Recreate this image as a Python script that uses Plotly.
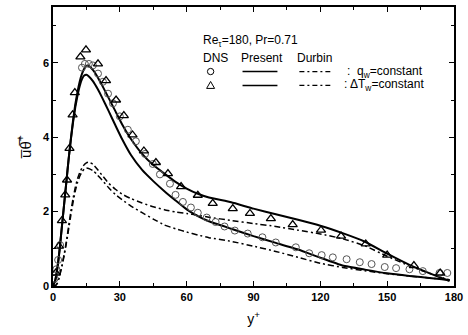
import plotly.graph_objects as go

# ---------------- data ----------------
yplus = [0, 1, 2, 3, 4, 5, 6, 7, 8, 9, 10, 11, 12, 13, 14, 15, 16, 18, 20, 22, 25, 28, 31, 35,
         40, 45, 50, 55, 60, 65, 70, 80, 90, 100, 110, 120, 130, 140, 150, 160, 170, 178]

present_dT = [0, 0.15, 0.5, 1.0, 1.6, 2.2, 2.8, 3.4, 3.95, 4.45, 4.88, 5.22, 5.5, 5.7, 5.84, 5.92,
              5.92, 5.8, 5.62, 5.4, 5.05, 4.7, 4.35, 3.95, 3.55, 3.25, 3.02, 2.8, 2.62, 2.48, 2.38,
              2.25, 2.08, 1.93, 1.78, 1.62, 1.42, 1.19, 0.87, 0.57, 0.32, 0.13]

present_qw = [0, 0.15, 0.5, 1.0, 1.6, 2.2, 2.8, 3.4, 3.93, 4.4, 4.8, 5.12, 5.38, 5.56, 5.66, 5.68,
              5.64, 5.5, 5.3, 5.07, 4.7, 4.32, 3.95, 3.52, 3.12, 2.82, 2.55, 2.3, 2.06, 1.88, 1.74,
              1.54, 1.34, 1.16, 0.98, 0.76, 0.55, 0.44, 0.34, 0.27, 0.21, 0.16]

durbin_dT = [0, 0.01, 0.08, 0.3, 0.55, 0.85, 1.2, 1.6, 2.0, 2.35, 2.65, 2.88, 3.05, 3.17, 3.26, 3.31,
             3.33, 3.27, 3.13, 2.98, 2.76, 2.6, 2.47, 2.35, 2.23, 2.13, 2.05, 1.99, 1.95, 1.9, 1.85,
             1.76, 1.68, 1.6, 1.5, 1.4, 1.27, 1.08, 0.8, 0.54, 0.32, 0.16]

durbin_qw = [0, 0.01, 0.08, 0.28, 0.52, 0.82, 1.15, 1.52, 1.9, 2.25, 2.55, 2.78, 2.95, 3.07, 3.14, 3.17,
             3.16, 3.1, 2.98, 2.85, 2.64, 2.46, 2.32, 2.15, 1.97, 1.8, 1.64, 1.54, 1.45, 1.37, 1.3,
             1.2, 1.07, 0.93, 0.77, 0.61, 0.5, 0.41, 0.33, 0.27, 0.21, 0.16]

dns_qw_y = [0.7, 1.5, 2.3, 3.2, 13, 14.3, 16.1, 17.9, 20.2, 22.4, 24.7, 26.9, 30, 33.6, 37.2, 41.3,
            44.8, 48, 52.5, 55, 58.3, 61.9, 65, 69, 73, 77, 81.6, 87.4, 94, 100, 109, 115, 120.6,
            125.6, 131.8, 137.7, 143, 148.9, 154, 160, 166, 173.5, 177]
dns_qw_v = [0.2, 0.45, 0.7, 1.1, 5.87, 5.97, 5.97, 5.93, 5.71, 5.49, 5.17, 4.91, 4.56, 4.2, 3.89, 3.55,
            3.28, 3.0, 2.75, 2.45, 2.26, 2.11, 1.97, 1.84, 1.72, 1.6, 1.49, 1.41, 1.31, 1.17, 1.04, 0.88,
            0.83, 0.77, 0.72, 0.64, 0.59, 0.51, 0.48, 0.45, 0.4, 0.35, 0.35]

dns_dT_y = [1.2, 2.7, 4, 5.5, 6.3, 7.4, 8.8, 9.8, 12.3, 14.8, 20.2, 23.8, 28.3, 31.8, 35.7, 40.8,
            46.2, 51.6, 57.5, 65, 71.7, 80.7, 88.4, 97.8, 107.6, 120.3, 129.3, 140.4, 150, 162, 173.8]
dns_dT_v = [0.35, 1.07, 1.76, 2.45, 2.85, 3.7, 4.6, 5.2, 6.16, 6.35, 5.97, 5.52, 5.0, 4.58, 4.06, 3.63,
            3.32, 3.02, 2.67, 2.44, 2.22, 2.08, 1.95, 1.81, 1.65, 1.5, 1.34, 1.13, 0.83, 0.55, 0.35]

x_ticks = [0, 30, 60, 90, 120, 150, 180]
y_ticks = [0, 2, 4, 6]

# ---------------- figure ----------------
DASHDOT = "6px,3px,2px,3px"
FONT = "Liberation Sans, Arial, sans-serif"
SM = 0.4

fig = go.Figure()
fig.add_trace(go.Scatter(x=yplus, y=durbin_qw, mode="lines", line=dict(color="black", width=1.5, dash=DASHDOT, shape="spline", smoothing=SM)))
fig.add_trace(go.Scatter(x=yplus, y=durbin_dT, mode="lines", line=dict(color="black", width=1.5, dash=DASHDOT, shape="spline", smoothing=SM)))
fig.add_trace(go.Scatter(x=yplus, y=present_qw, mode="lines", line=dict(color="black", width=2, shape="spline", smoothing=SM)))
fig.add_trace(go.Scatter(x=yplus, y=present_dT, mode="lines", line=dict(color="black", width=2, shape="spline", smoothing=SM)))
fig.add_trace(go.Scatter(x=dns_qw_y, y=dns_qw_v, mode="markers",
                         marker=dict(symbol="circle-open", size=7, color="#555555", line=dict(width=1))))
fig.add_trace(go.Scatter(x=dns_dT_y, y=dns_dT_v, mode="markers",
                         marker=dict(symbol="triangle-up-open", size=8, color="black", line=dict(width=1.3))))

# legend-like annotation block (paper coordinates)
def px2x(p):
    return (p - 53) / 402.0

def py2y(p):
    return (286 - p) / 281.0

ann = [
    dict(x=px2x(201), y=py2y(39), text="Re<sub>τ</sub>=180, Pr=0.71"),
    dict(x=px2x(201), y=py2y(56), text="DNS"),
    dict(x=px2x(239), y=py2y(56), text="Present"),
    dict(x=px2x(296), y=py2y(56), text="Durbin"),
    dict(x=px2x(346), y=py2y(70), text=":  q<sub>w</sub>=constant"),
    dict(x=px2x(343), y=py2y(84), text=": ΔT<sub>w</sub>=constant"),
]
for a in ann:
    fig.add_annotation(xref="paper", yref="paper", xanchor="left", yanchor="middle",
                       showarrow=False, font=dict(family=FONT, size=12, color="black"), **a)

# legend symbols
cx, r = 211, 3.2
fig.add_shape(type="circle", xref="paper", yref="paper",
              x0=px2x(cx - r), x1=px2x(cx + r), y0=py2y(70 + r), y1=py2y(70 - r),
              line=dict(color="black", width=1))
tri = "M {a},{b} L {c},{d} L {e},{f} Z".format(
    a=px2x(cx - 4), b=py2y(87), c=px2x(cx + 4), d=py2y(87), e=px2x(cx), f=py2y(80))
fig.add_shape(type="path", xref="paper", yref="paper", path=tri, line=dict(color="black", width=1))

for yy in (70, 84):
    fig.add_shape(type="line", xref="paper", yref="paper", x0=px2x(243), x1=px2x(278),
                  y0=py2y(yy), y1=py2y(yy), line=dict(color="black", width=1.5))
    fig.add_shape(type="line", xref="paper", yref="paper", x0=px2x(300), x1=px2x(331),
                  y0=py2y(yy), y1=py2y(yy), line=dict(color="black", width=1.2, dash="5px,3px,2px,3px"))

axis_common = dict(showline=True, linecolor="black", linewidth=1.5, mirror="ticks",
                   ticks="inside", ticklen=5, tickwidth=1.2, tickcolor="black",
                   showgrid=False, zeroline=False,
                   tickfont=dict(family=FONT, size=11, color="black", weight="bold"))

fig.update_layout(
    width=468, height=335,
    margin=dict(l=53, r=13, t=5, b=49),
    paper_bgcolor="white", plot_bgcolor="white",
    showlegend=False,
    xaxis=dict(range=[0, 180], tickvals=x_ticks, ticktext=[str(v) for v in x_ticks],
               minor=dict(ticks="inside", dtick=15, ticklen=3, tickcolor="black"),
               title=dict(text="y<sup>+</sup>", font=dict(family=FONT, size=14, color="black"), standoff=12),
               **axis_common),
    yaxis=dict(range=[0, 7.5], tickvals=y_ticks, ticktext=[str(v) for v in y_ticks],
               minor=dict(ticks="inside", dtick=1, ticklen=3, tickcolor="black"),
               title=dict(text="u\u0305θ\u0305<sup>+</sup>", font=dict(family=FONT, size=15, color="black"), standoff=8),
               **axis_common),
)

fig.write_html("out.html")
